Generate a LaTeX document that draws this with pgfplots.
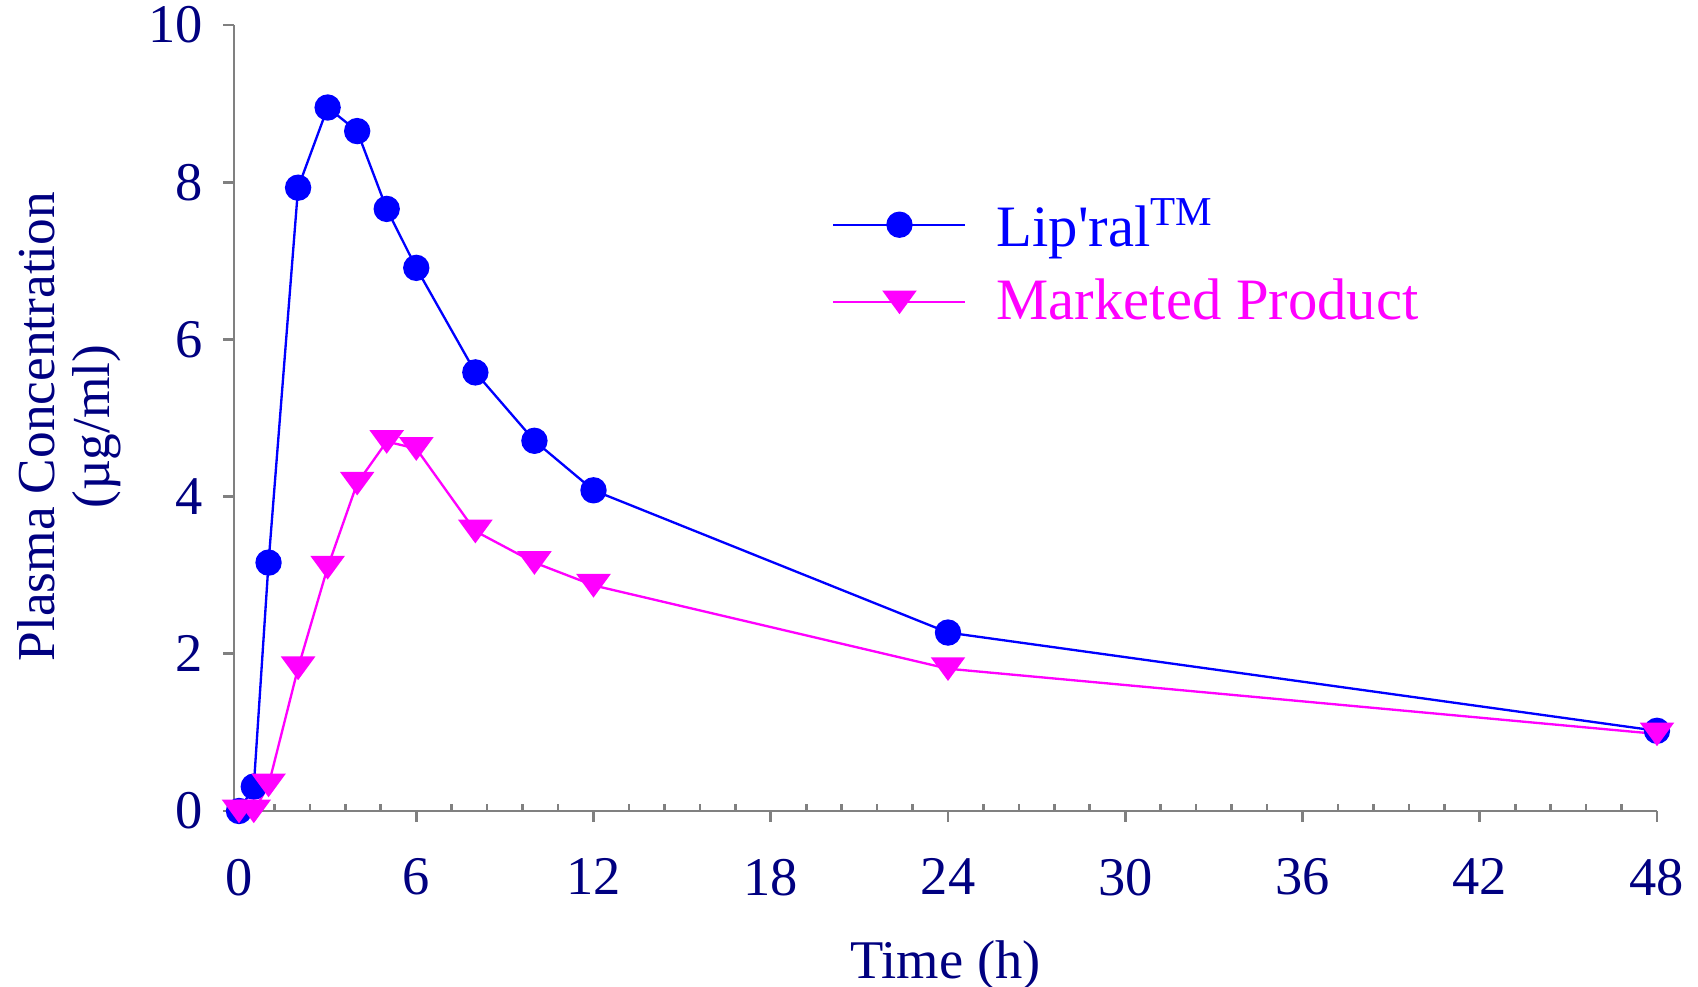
\documentclass[border=0pt]{standalone}
\usepackage{pgfplots}
\pgfplotsset{compat=1.18}
\usepackage{fontspec}
\setmainfont{Liberation Serif}
\newfontfamily\plainserif{Liberation Serif}
\definecolor{navy}{RGB}{0,0,128}
\definecolor{axgray}{RGB}{128,128,128}
\definecolor{sblue}{RGB}{0,0,255}
\definecolor{smag}{RGB}{255,0,255}

\begin{document}
\begin{tikzpicture}
\useasboundingbox (-70.2pt,-52.8pt) rectangle (439.2pt,243.3pt);
\begin{axis}[
  at={(0pt,0pt)}, anchor=south west,
  scale only axis, width=426.9pt, height=235.8pt,
  xmin=-0.17, xmax=48, ymin=0, ymax=10,
  clip=false,
  axis lines*=left,
  axis line style={axgray, line width=0.8pt},
  xtick={0,6,...,48}, ytick={0,2,...,10},
  minor x tick num=4,
  tick style={axgray, line width=0.8pt},
  tick align=outside,
  major tick length=3.2pt,
  minor tick length=2.1pt,
  every minor tick/.append style={yshift=2.1pt},
  /pgf/number format/assume math mode=true,
  tick label style={font=\fontsize{16.35}{19}\selectfont, text=navy},
  xticklabel style={yshift=-7.6pt},
  yticklabel style={xshift=-2.7pt},
  xlabel={Time (h)},
  xlabel style={at={(axis description cs:0.5,0)}, anchor=north, yshift=-38.8pt, inner sep=0pt, font=\fontsize{16.35}{19}\selectfont, text=navy},
  ylabel={Plasma Concentration\\(µg/ml)},
  ylabel style={at={(axis description cs:-0.079,0.489)}, anchor=south, align=center, inner sep=0pt, font=\fontsize{16}{16.6}\selectfont, text=navy},
  legend style={draw=none, fill=none, at={(0.420,0.699)}, anchor=west, inner sep=0pt, row sep=4.4pt, column sep=7pt, font=\fontsize{17.6}{20}\selectfont, cells={anchor=west}},
  legend cell align=left,
  legend image code/.code={\draw[mark repeat=2,mark phase=2] plot coordinates {(0pt,0pt) (19.8pt,0pt) (39.6pt,0pt)};},
]
\addplot[sblue, line width=0.7pt, mark=*, mark size=3.6pt, mark options={solid, fill=sblue, draw=sblue}] coordinates {
(0,0) (0.5,0.31) (1,3.16) (2,7.93) (3,8.95) (4,8.65) (5,7.66) (6,6.91) (8,5.58) (10,4.71) (12,4.08) (24,2.27) (48,1.02)
};
\addlegendentry{\textcolor{sblue}{\plainserif Lip'ral\textsuperscript{TM}}}
\addplot[smag, line width=0.7pt, mark=triangle*, mark size=5.2pt, mark options={solid, fill=smag, draw=smag, yshift=1.03pt, rotate=180, yscale=0.79}] coordinates {
(0,0) (0.5,0) (1,0.33) (2,1.82) (3,3.10) (4,4.17) (5,4.70) (6,4.61) (8,3.56) (10,3.16) (12,2.87) (24,1.81) (48,0.98)
};
\addlegendentry{\textcolor{smag}{\plainserif Marketed Product}}
\end{axis}
\end{tikzpicture}
\end{document}
